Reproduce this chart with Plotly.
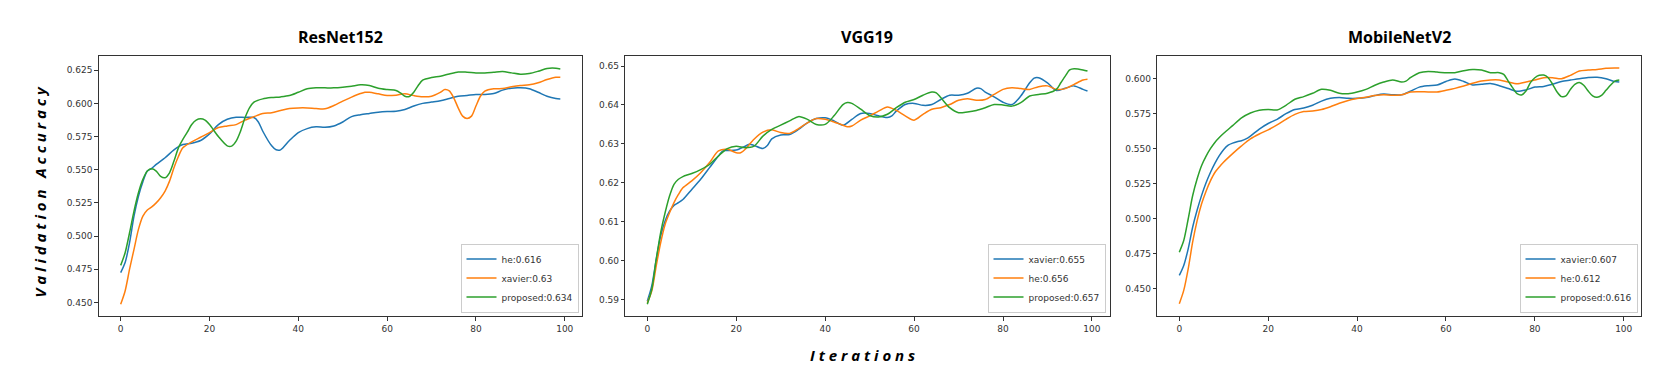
import plotly.graph_objects as go

# ---------------- data ----------------
X_TICKS = [0, 20, 40, 60, 80, 100]

# ResNet152
R_HE_X = [0, 1, 2, 3, 4, 5, 6, 7, 8, 10, 12, 14, 16, 18, 20, 22, 24, 26, 28, 30, 31, 32, 34, 35, 36, 38,
          40, 42, 44, 46, 48, 50, 52, 54, 56, 58, 60, 62, 64, 66, 68, 70, 72, 74, 76, 78, 80, 82, 84,
          86, 88, 90, 92, 94, 96, 98, 99]
R_HE_Y = [0.4724, 0.480, 0.495, 0.515, 0.530, 0.541, 0.549, 0.551, 0.554, 0.559, 0.565, 0.569, 0.570,
          0.572, 0.577, 0.584, 0.588, 0.5896, 0.5894, 0.5894, 0.586, 0.579, 0.568, 0.565, 0.565, 0.572,
          0.578, 0.581, 0.5823, 0.582, 0.583, 0.586, 0.590, 0.5914, 0.5924, 0.5934, 0.5939, 0.5941,
          0.5954, 0.598, 0.600, 0.601, 0.602, 0.6037, 0.6054, 0.606, 0.6067, 0.6067, 0.6074, 0.610,
          0.6115, 0.6117, 0.611, 0.6084, 0.6054, 0.6037, 0.6034]

R_XA_X = [0, 1, 2, 3, 4, 5, 6, 7, 8, 9, 10, 11, 12, 13, 14, 16, 18, 20, 22, 24, 26, 28, 30, 32, 34, 36,
          38, 40, 42, 44, 46, 48, 50, 52, 54, 55, 56, 58, 60, 62, 64, 66, 68, 70, 72, 73, 74, 75, 76,
          77, 78, 79, 80, 81, 82, 84, 86, 88, 90, 92, 94, 96, 98, 99]
R_XA_Y = [0.4486, 0.4586, 0.475, 0.490, 0.505, 0.515, 0.5196, 0.522, 0.525, 0.5289, 0.5339, 0.5414,
          0.5515, 0.560, 0.5665, 0.571, 0.5745, 0.578, 0.5818, 0.583, 0.584, 0.5874, 0.590, 0.5924,
          0.593, 0.5946, 0.5961, 0.5966, 0.5966, 0.5961, 0.5959, 0.5984, 0.6017, 0.6047, 0.6074,
          0.6084, 0.6084, 0.6072, 0.6059, 0.6062, 0.6072, 0.6059, 0.605, 0.6054, 0.6084, 0.6104,
          0.6094, 0.6042, 0.5966, 0.5904, 0.5886, 0.5904, 0.598, 0.6054, 0.6092, 0.611, 0.6112,
          0.6125, 0.6135, 0.614, 0.6155, 0.618, 0.6197, 0.6197]

R_PR_X = [0, 1, 2, 3, 4, 5, 6, 7, 8, 9, 10, 11, 12, 13, 14, 15, 16, 17, 18, 19, 20, 22, 24, 25, 26,
          27, 28, 29, 30, 32, 34, 36, 38, 40, 42, 44, 46, 48, 50, 52, 54, 56, 58, 60, 62, 63, 64, 65,
          66, 67, 68, 70, 72, 74, 76, 78, 80, 82, 84, 86, 88, 90, 92, 94, 96, 98, 99]
R_PR_Y = [0.4779, 0.4874, 0.5025, 0.5188, 0.5326, 0.5427, 0.549, 0.5507, 0.549, 0.545, 0.544, 0.5477,
          0.5565, 0.5665, 0.5728, 0.5783, 0.5841, 0.5874, 0.5884, 0.5874, 0.5841, 0.575, 0.568,
          0.5678, 0.5715, 0.5791, 0.5891, 0.5966, 0.6009, 0.6034, 0.6044, 0.6049, 0.6059, 0.6084,
          0.611, 0.6117, 0.6117, 0.6117, 0.6122, 0.613, 0.614, 0.6135, 0.6114, 0.6104, 0.6097,
          0.6079, 0.6054, 0.6052, 0.6084, 0.6135, 0.6175, 0.6195, 0.6205, 0.6222, 0.6237, 0.6235,
          0.623, 0.623, 0.6235, 0.624, 0.623, 0.622, 0.6225, 0.6242, 0.6263, 0.6265, 0.626]

# VGG19
V_XA_X = [0, 1, 2, 3, 4, 5, 6, 7, 8, 10, 12, 14, 16, 17, 18, 20, 22, 23, 24, 26, 27, 28, 30, 32, 34,
          36, 38, 40, 42, 44, 46, 48, 50, 52, 54, 55, 56, 58, 60, 62, 64, 66, 68, 70, 72, 74, 75, 76,
          78, 80, 82, 84, 86, 87, 88, 90, 92, 94, 96, 98, 99]
V_XA_Y = [0.5896, 0.5935, 0.6003, 0.6063, 0.6102, 0.6127, 0.6142, 0.6149, 0.6157, 0.6183, 0.6209,
          0.6239, 0.6269, 0.6282, 0.6283, 0.6284, 0.6294, 0.6299, 0.6296, 0.6288, 0.6296, 0.6313,
          0.6323, 0.6324, 0.6337, 0.6354, 0.6365, 0.6367, 0.6359, 0.6348, 0.6363, 0.6378, 0.6378,
          0.6372, 0.6368, 0.6372, 0.6384, 0.6401, 0.6404, 0.6399, 0.6401, 0.6414, 0.6425, 0.6425,
          0.643, 0.6443, 0.6442, 0.6433, 0.6421, 0.6407, 0.6401, 0.6423, 0.6457, 0.6469, 0.647,
          0.6457, 0.6437, 0.6443, 0.6449, 0.644, 0.6436]

V_HE_X = [0, 1, 2, 3, 4, 5, 6, 7, 8, 10, 12, 14, 16, 18, 20, 21, 22, 24, 26, 28, 30, 32, 34, 36, 38,
          40, 42, 44, 45, 46, 48, 50, 52, 54, 56, 58, 60, 62, 64, 66, 68, 70, 72, 74, 76, 78, 80, 82,
          84, 86, 88, 90, 92, 94, 96, 98, 99]
V_HE_Y = [0.5892, 0.5922, 0.5986, 0.6046, 0.6093, 0.6123, 0.6149, 0.617, 0.6187, 0.6205, 0.6226,
          0.6252, 0.6282, 0.6286, 0.6277, 0.6277, 0.6286, 0.6312, 0.633, 0.6336, 0.6329, 0.6327,
          0.6339, 0.6354, 0.6365, 0.6363, 0.6356, 0.6348, 0.6344, 0.6346, 0.6361, 0.6372, 0.6384,
          0.6395, 0.6386, 0.6372, 0.6361, 0.6376, 0.6389, 0.6393, 0.6401, 0.6412, 0.6416, 0.6412,
          0.6414, 0.6427, 0.644, 0.6444, 0.6442, 0.644, 0.6447, 0.6449, 0.644, 0.6442, 0.6453,
          0.6464, 0.6466]

V_PR_X = [0, 1, 2, 3, 4, 5, 6, 7, 8, 10, 12, 14, 16, 18, 20, 22, 24, 26, 28, 30, 32, 34, 36, 38, 40,
          42, 44, 45, 46, 48, 50, 52, 54, 56, 58, 60, 62, 64, 65, 66, 68, 70, 72, 74, 76, 78, 80, 82,
          84, 86, 88, 90, 92, 93, 94, 95, 96, 98, 99]
V_PR_Y = [0.5888, 0.5926, 0.6003, 0.6072, 0.6123, 0.6166, 0.6196, 0.6209, 0.6216, 0.6224, 0.6234,
          0.6247, 0.6269, 0.6288, 0.6294, 0.629, 0.6294, 0.632, 0.6337, 0.6348, 0.6359, 0.637,
          0.6363, 0.635, 0.635, 0.6372, 0.6401, 0.6406, 0.6404, 0.6389, 0.6373, 0.6369, 0.6376,
          0.6393, 0.6407, 0.6414, 0.6425, 0.6433, 0.6431, 0.6419, 0.6393, 0.638, 0.6382, 0.6386,
          0.6393, 0.6401, 0.64, 0.6397, 0.6406, 0.6423, 0.6427, 0.643, 0.644, 0.6457, 0.6474, 0.649,
          0.6493, 0.649, 0.6487]

# MobileNetV2
M_XA_X = [0, 1, 2, 3, 4, 5, 6, 7, 8, 9, 10, 11, 12, 13, 14, 15, 16, 18, 20, 22, 24, 26, 28, 30, 32,
          34, 36, 38, 40, 42, 44, 46, 48, 50, 52, 54, 56, 58, 60, 62, 64, 66, 68, 70, 72, 74, 76, 78,
          80, 82, 84, 86, 88, 90, 92, 94, 96, 98, 99]
M_XA_Y = [0.4595, 0.4666, 0.4785, 0.4939, 0.5060, 0.5165, 0.5255, 0.5330, 0.5395, 0.5450, 0.5495,
          0.5525, 0.5540, 0.5550, 0.5557, 0.5570, 0.5590, 0.5640, 0.5680, 0.5710, 0.5750, 0.5780,
          0.5790, 0.5810, 0.5840, 0.5860, 0.5865, 0.5860, 0.5860, 0.5865, 0.5880, 0.5890, 0.5885,
          0.5885, 0.5910, 0.5940, 0.5950, 0.5955, 0.5980, 0.5998, 0.5980, 0.5955, 0.5960, 0.5965,
          0.5950, 0.5930, 0.5910, 0.5920, 0.5940, 0.5945, 0.5960, 0.5980, 0.5990, 0.6000, 0.6008,
          0.6010, 0.6000, 0.5980, 0.5976]

M_HE_X = [0, 1, 2, 3, 4, 5, 6, 7, 8, 9, 10, 12, 14, 16, 18, 20, 22, 24, 26, 28, 30, 32, 34, 36, 38,
          40, 42, 44, 46, 48, 50, 52, 54, 56, 58, 60, 62, 64, 66, 68, 70, 72, 74, 76, 78, 80, 82, 84,
          86, 88, 90, 92, 94, 96, 98, 99]
M_HE_Y = [0.4393, 0.4488, 0.4642, 0.4832, 0.4985, 0.5105, 0.5195, 0.5270, 0.5330, 0.5370, 0.5405,
          0.5465, 0.5520, 0.5570, 0.5605, 0.5635, 0.5670, 0.5710, 0.5745, 0.5765, 0.5770, 0.5780,
          0.5800, 0.5825, 0.5845, 0.5858, 0.5868, 0.5880, 0.5886, 0.5881, 0.5885, 0.5905, 0.5907,
          0.5905, 0.5905, 0.5917, 0.5931, 0.5948, 0.5967, 0.5983, 0.5991, 0.5991, 0.5976, 0.5964,
          0.5976, 0.5991, 0.6007, 0.6007, 0.6, 0.6024, 0.6055, 0.6062, 0.6066, 0.6074, 0.6076,
          0.6076]

M_PR_X = [0, 1, 2, 3, 4, 5, 6, 7, 8, 9, 10, 12, 14, 16, 18, 20, 22, 24, 26, 28, 30, 32, 34, 36, 38,
          40, 42, 44, 46, 48, 50, 51, 52, 54, 56, 58, 60, 62, 64, 66, 68, 70, 72, 73, 74, 75, 76, 77,
          78, 79, 80, 81, 82, 83, 84, 85, 86, 87, 88, 89, 90, 91, 92, 93, 94, 95, 96, 97, 98, 99]
M_PR_Y = [0.4761, 0.4844, 0.4998, 0.5164, 0.5283, 0.5378, 0.5445, 0.5500, 0.5545, 0.5580, 0.5610,
          0.5665, 0.5720, 0.5755, 0.5775, 0.5780, 0.5777, 0.581, 0.5853, 0.5872, 0.5896, 0.5924,
          0.5917, 0.5896, 0.5893, 0.5905, 0.5924, 0.5953, 0.5976, 0.5991, 0.5976, 0.5983, 0.6007,
          0.6043, 0.6052, 0.6047, 0.6043, 0.6043, 0.6057, 0.6066, 0.6062, 0.6043, 0.6043, 0.6031,
          0.5983, 0.5936, 0.5893, 0.5884, 0.5912, 0.5972, 0.6007, 0.6024, 0.6026, 0.6007, 0.596,
          0.5905, 0.5872, 0.5877, 0.5924, 0.596, 0.5972, 0.5953, 0.5912, 0.5877, 0.5867, 0.5881,
          0.5917, 0.5953, 0.5983, 0.599]

TITLES = ["ResNet152", "VGG19", "MobileNetV2"]
PANELS = [
    [("he:0.616", R_HE_X, R_HE_Y), ("xavier:0.63", R_XA_X, R_XA_Y), ("proposed:0.634", R_PR_X, R_PR_Y)],
    [("xavier:0.655", V_XA_X, V_XA_Y), ("he:0.656", V_HE_X, V_HE_Y), ("proposed:0.657", V_PR_X, V_PR_Y)],
    [("xavier:0.607", M_XA_X, M_XA_Y), ("he:0.612", M_HE_X, M_HE_Y), ("proposed:0.616", M_PR_X, M_PR_Y)],
]
Y_RANGES = [[0.4395, 0.6355], [0.5857, 0.6525], [0.4303, 0.616]]
Y_TICKS = [
    [0.450, 0.475, 0.500, 0.525, 0.550, 0.575, 0.600, 0.625],
    [0.59, 0.60, 0.61, 0.62, 0.63, 0.64, 0.65],
    [0.450, 0.475, 0.500, 0.525, 0.550, 0.575, 0.600],
]
Y_FORMATS = [".3f", ".2f", ".3f"]
COLORS = ["#1f77b4", "#ff7f0e", "#2ca02c"]

# ---------------- layout geometry (pixels) ----------------
W, H = 1660, 378
X_DOMAINS_PX = [(90.7, 574.3), (617.3, 1101.5), (1149.3, 1633.3)]
Y_TOP_PX, Y_BOT_PX = 48.3, 308.3
LEGEND_RIGHT_PX = [570.5, 1097.5, 1629.5]
LEGEND_BOTTOM_PX = 304.5

fig = go.Figure()
tick_font = dict(family="DejaVu Sans", size=9, color="#333333")
ydom = [(H - Y_BOT_PX) / H, (H - Y_TOP_PX) / H]

for i, series in enumerate(PANELS):
    n = "" if i == 0 else str(i + 1)
    leg = "legend" + n
    for j, (name, xs, ys) in enumerate(series):
        fig.add_trace(go.Scatter(
            x=xs, y=ys, mode="lines", name=name,
            line=dict(color=COLORS[j], width=1.5, shape="spline", smoothing=0.8),
            xaxis="x" + n, yaxis="y" + n, legend=leg, showlegend=True,
        ))
    xd = [X_DOMAINS_PX[i][0] / W, X_DOMAINS_PX[i][1] / W]
    common = dict(showline=True, linecolor="#333333", linewidth=1, mirror=True, showgrid=False,
                  zeroline=False, ticks="outside", ticklen=3.5, tickwidth=0.8, tickcolor="#333333",
                  tickfont=tick_font)
    fig.update_layout(**{
        "xaxis" + n: dict(domain=xd, anchor="y" + n, range=[-4.95, 103.95], tickvals=X_TICKS, **common),
        "yaxis" + n: dict(domain=ydom, anchor="x" + n, range=Y_RANGES[i], tickvals=Y_TICKS[i],
                          tickformat=Y_FORMATS[i], **common),
        leg: dict(x=LEGEND_RIGHT_PX[i] / W, y=(H - LEGEND_BOTTOM_PX) / H, xanchor="right",
                  yanchor="bottom", bgcolor="rgba(255,255,255,0.85)", bordercolor="#cccccc",
                  borderwidth=1, font=dict(family="DejaVu Sans", size=9, color="#333333"),
                  itemwidth=30, tracegroupgap=0),
    })
    fig.add_annotation(text="<b>" + TITLES[i] + "</b>", xref="paper", yref="paper",
                       x=(xd[0] + xd[1]) / 2, y=(H - 29.5) / H, xanchor="center", yanchor="middle",
                       showarrow=False, font=dict(family="Open Sans", size=16, color="#000000"))

fig.add_annotation(text="<b><i>V a l i d a t i o n   A c c u r a c y</i></b>", xref="paper",
                   yref="paper", x=31.5 / W, y=(H - 184) / H, textangle=-90, showarrow=False,
                   xanchor="center", yanchor="middle",
                   font=dict(family="Open Sans", size=15, color="#000000"))
fig.add_annotation(text="<b><i>I t e r a t i o n s</i></b>", xref="paper", yref="paper",
                   x=855 / W, y=(H - 347) / H, showarrow=False, xanchor="center", yanchor="middle",
                   font=dict(family="Open Sans", size=15, color="#000000"))

fig.update_layout(width=W, height=H, autosize=False, margin=dict(l=0, r=0, t=0, b=0),
                  paper_bgcolor="white", plot_bgcolor="white")

fig.write_html("out.html")
